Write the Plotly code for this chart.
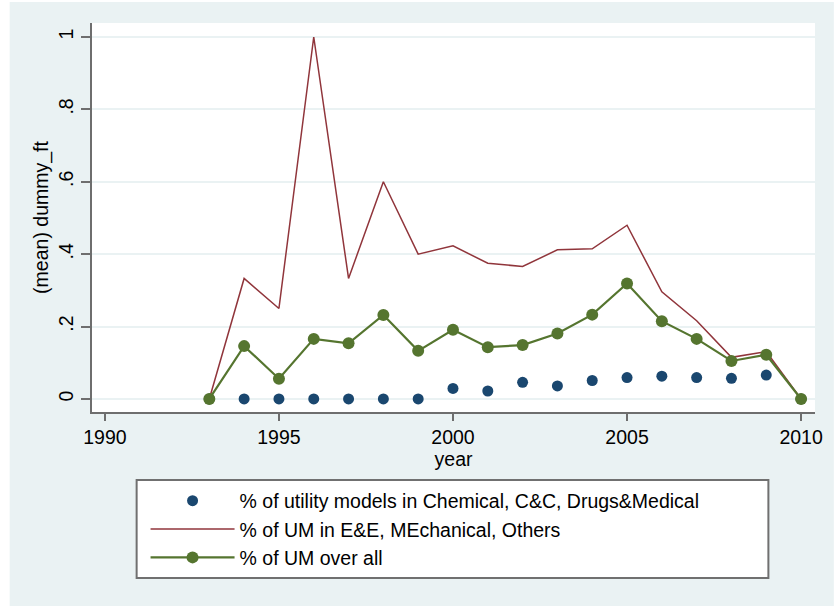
import plotly.graph_objects as go

# Yearly means of the first-time dummy, by technology group
years = list(range(1993, 2011))

chem_share = [0.0, 0.0, 0.0, 0.0, 0.0, 0.0, 0.0, 0.029, 0.022, 0.046,
              0.036, 0.051, 0.059, 0.063, 0.059, 0.057, 0.066, 0.0]
ee_mech_share = [0.0, 0.333, 0.25, 1.0, 0.333, 0.6, 0.4, 0.423, 0.375, 0.366,
                 0.412, 0.415, 0.48, 0.296, 0.216, 0.115, 0.131, 0.0]
overall_share = [0.0, 0.146, 0.056, 0.166, 0.154, 0.232, 0.133, 0.191, 0.143, 0.149,
                 0.181, 0.233, 0.319, 0.215, 0.166, 0.105, 0.122, 0.0]

x_ticks = [1990, 1995, 2000, 2005, 2010]
y_ticks = [0, 0.2, 0.4, 0.6, 0.8, 1]
y_tick_labels = ["0", ".2", ".4", ".6", ".8", "1"]

NAVY = "#1A476F"
MAROON = "#90353B"
GREEN = "#55752F"
REGION = "#EAF2F3"
AXIS = "#6E6E6E"
FONT = "Liberation Sans, Arial, sans-serif"
FS = 19.5

W, H = 835, 606
L, R, T, B = 92, 14, 23, 194
pw, ph = W - L - R, H - T - B


def px_x(p):
    return (p - L) / pw


def px_y(p):
    return (H - B - p) / ph


fig = go.Figure()

fig.add_trace(go.Scatter(
    x=years, y=chem_share, mode="markers",
    marker=dict(color=NAVY, size=11),
    name="% of utility models in Chemical, C&C, Drugs&Medical",
))
fig.add_trace(go.Scatter(
    x=years, y=ee_mech_share, mode="lines",
    line=dict(color=MAROON, width=1.5),
    name="% of UM in E&E, MEchanical, Others",
))
fig.add_trace(go.Scatter(
    x=years, y=overall_share, mode="lines+markers",
    line=dict(color=GREEN, width=2.2),
    marker=dict(color=GREEN, size=12),
    name="% of UM over all",
))

shapes = [
    # graph region background
    dict(type="rect", xref="paper", yref="paper", layer="below",
         x0=px_x(9), x1=px_x(W + 5), y0=px_y(2), y1=px_y(H + 5),
         fillcolor=REGION, line=dict(width=0)),
    # plot region
    dict(type="rect", xref="paper", yref="paper", layer="below",
         x0=0, x1=1, y0=0, y1=1,
         fillcolor="white", line=dict(width=0)),
    # legend frame
    dict(type="rect", xref="paper", yref="paper", layer="below",
         x0=px_x(137), x1=px_x(774), y0=px_y(578), y1=px_y(480),
         fillcolor="white", line=dict(color="#707070", width=2)),
]

fig.update_layout(
    width=W, height=H,
    margin=dict(l=L, r=R, t=T, b=B),
    paper_bgcolor="white",
    plot_bgcolor="rgba(0,0,0,0)",
    font=dict(family=FONT, size=FS, color="black"),
    shapes=shapes,
    showlegend=True,
    legend=dict(
        x=px_x(146), y=px_y(481.5), xanchor="left", yanchor="top",
        bgcolor="rgba(0,0,0,0)", borderwidth=0,
        font=dict(family=FONT, size=FS, color="black"),
        itemwidth=84, tracegroupgap=0,
    ),
    xaxis=dict(
        range=[1989.63, 2010.4], tickvals=x_ticks,
        tickfont=dict(family=FONT, size=FS, color="black"),
        showgrid=False, zeroline=False,
        showline=True, linecolor=AXIS, linewidth=1.5,
        ticks="outside", ticklen=7, tickcolor=AXIS, tickwidth=1.5,
        title=dict(text="year", standoff=2,
                   font=dict(family=FONT, size=FS, color="black")),
    ),
    yaxis=dict(
        range=[-0.036, 1.0387], tickvals=y_ticks, ticktext=y_tick_labels,
        tickangle=-90,
        tickfont=dict(family=FONT, size=FS, color="black"),
        showgrid=True, gridcolor=REGION, gridwidth=2, zeroline=False,
        showline=True, linecolor=AXIS, linewidth=1.5,
        ticks="outside", ticklen=9, tickcolor=AXIS, tickwidth=1.5,
        title=dict(text="(mean) dummy_ft", standoff=2,
                   font=dict(family=FONT, size=FS, color="black")),
    ),
)

fig.write_html("out.html")
